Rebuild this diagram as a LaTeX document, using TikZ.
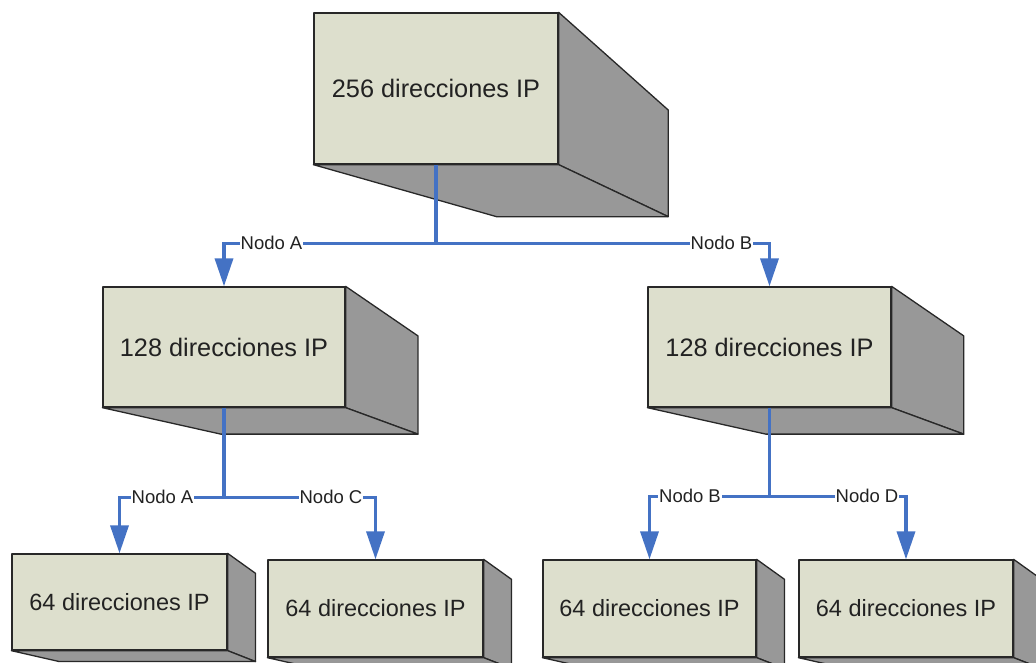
\documentclass[tikz,border=0pt]{standalone}
\usepackage{fontspec}
\setmainfont{Liberation Sans}
\usetikzlibrary{calc,arrows.meta}

\definecolor{facefill}{RGB}{221,223,205}
\definecolor{sidefill}{RGB}{152,152,152}
\definecolor{edgecol}{RGB}{40,40,40}
\definecolor{linkblue}{RGB}{68,114,196}
\definecolor{inkcol}{RGB}{34,34,34}

\tikzset{
  frontface/.style={draw=edgecol, fill=facefill, line width=1.3pt, inner sep=0pt,
    text=inkcol, line join=round},
  bigtext/.style={font=\fontsize{25.3}{30}\selectfont},
  smalltext/.style={font=\fontsize{23.5}{28}\selectfont},
  sideface/.style={draw=edgecol, fill=sidefill, line width=1.3pt, line join=round},
  conn/.style={draw=linkblue, line width=3.5pt},
  arr/.style={-{Triangle[length=28pt,width=18pt]}},
  lbl/.style={fill=white, inner sep=1pt, text=inkcol,
    font=\fontsize{18.5}{20}\selectfont},
}

% Perspective sides of a box: #1 front node, (#2,#3) vanishing point, #4 depth ratio
\newcommand\boxsides[4]{%
  \coordinate (#1-bne) at ($(#1.north east)!#4!(#2,#3)$);
  \coordinate (#1-bse) at ($(#1.south east)!#4!(#2,#3)$);
  \coordinate (#1-bsw) at ($(#1.south west)!#4!(#2,#3)$);
  \draw[sideface] (#1.north east) -- (#1-bne) -- (#1-bse) -- (#1.south east) -- cycle;
  \draw[sideface] (#1.south west) -- (#1.south east) -- (#1-bse) -- (#1-bsw) -- cycle;
}

\begin{document}
\begin{tikzpicture}[x=1pt,y=-1pt]
\useasboundingbox (0,0) rectangle (1036,662);
\clip (0,0) rectangle (1036,662);

% boxes
\node[frontface, bigtext, minimum width=244pt, minimum height=151pt] (top) at (436,88.5) {256 direcciones IP};
\boxsides{top}{924}{338}{0.30}

\node[frontface, bigtext, minimum width=242pt, minimum height=120pt] (midL) at (224,347) {128 direcciones IP};
\boxsides{midL}{726}{547}{0.19}

\node[frontface, bigtext, minimum width=243pt, minimum height=120pt] (midR) at (769.5,347) {128 direcciones IP};
\boxsides{midR}{1271}{547}{0.19}

\node[frontface, smalltext, minimum width=215pt, minimum height=96pt] (b1) at (119.5,602) {64 direcciones IP};
\boxsides{b1}{527}{768}{0.093}

\node[frontface, smalltext, minimum width=215pt, minimum height=97pt] (b2) at (375.5,608.5) {64 direcciones IP};
\boxsides{b2}{783}{774}{0.093}

\node[frontface, smalltext, minimum width=213pt, minimum height=97pt] (b3) at (649.5,608.5) {64 direcciones IP};
\boxsides{b3}{1056}{774}{0.093}

\node[frontface, smalltext, minimum width=214pt, minimum height=97pt] (b4) at (906,608.5) {64 direcciones IP};
\boxsides{b4}{1313}{774}{0.093}

% junctions
\coordinate (j0) at ($(top.south)+(0,79)$);
\coordinate (jL) at ($(midL.south)+(0,90)$);
\coordinate (jR) at ($(midR.south)+(0,89)$);

% connectors
\draw[conn] (top.south) -- (j0);
\draw[conn, arr] (j0) -| (midL.north);
\draw[conn, arr] (j0) -| (midR.north);

\draw[conn] (midL.south) -- (jL);
\draw[conn, arr] (jL) -| (b1.north);
\draw[conn, arr] (jL) -| (b2.north);

\draw[conn] (midR.south) -- (jR);
\draw[conn, arr] (jR) -| (b3.north);
\draw[conn, arr] (jR) -| (b4.north);

% link labels
\node[lbl] (l0a) at (271.5,243) {Nodo A};
\node[lbl] (l0b) at (721.5,243) {Nodo B};
\node[lbl] (lLa) at (162.5,497) {Nodo A};
\node[lbl] (lLc) at (331,497) {Nodo C};
\node[lbl] (lRb) at (690,496) {Nodo B};
\node[lbl] (lRd) at (867,496) {Nodo D};
\end{tikzpicture}
\end{document}
